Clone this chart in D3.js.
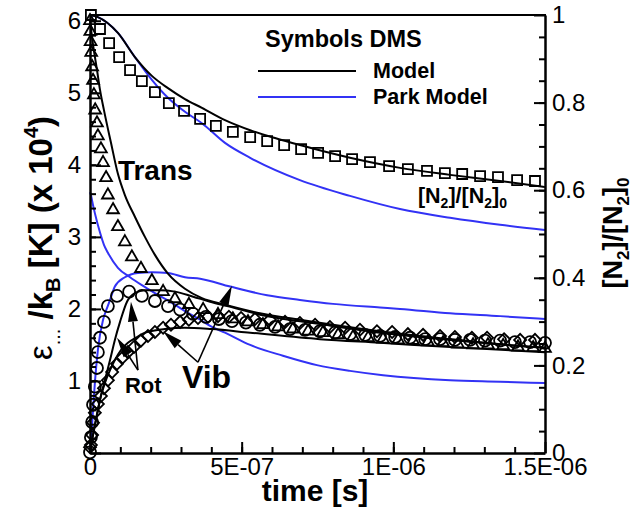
<!DOCTYPE html>
<html><head><meta charset="utf-8">
<script src="https://cdn.jsdelivr.net/npm/d3@7"></script>
<style>
body{margin:0;background:#fff;}
svg{display:block;font-family:"Liberation Sans",Arial,Helvetica,sans-serif;}
</style></head><body>
<svg id="c" width="641" height="508"></svg>
<script>
const US = 1e-6; // times below are in microseconds

// ---- DMS symbols ----
// Squares: [N2]/[N2]0 (right axis)
const tSq = [0.003,0.033,0.063,0.096,0.132,0.171,0.214,0.260,0.310,0.363,0.415,0.471,0.528,0.584,0.640,0.696,0.752,0.808,0.864,0.923,0.986,1.048,1.111,1.170,1.227,1.286,1.345,1.408,1.467];
const vSq = [1.0,0.968,0.936,0.904,0.874,0.849,0.824,0.799,0.781,0.763,0.747,0.733,0.721,0.712,0.703,0.694,0.685,0.678,0.671,0.664,0.655,0.648,0.644,0.639,0.637,0.632,0.630,0.623,0.621];
// Triangles: Trans temperature (x1e4 K)
const tTri = [0,0.001,0.002,0.004,0.007,0.010,0.013,0.017,0.023,0.026,0.036,0.043,0.053,0.059,0.076,0.092,0.115,0.138,0.168,0.204,0.241,0.280,0.326,0.373,0.422,0.471,0.521,0.570,0.620,0.669,0.719,0.768,0.818,0.867,0.917,0.966,1.016,1.065,1.114,1.164,1.213,1.263,1.312,1.362,1.411,1.461,1.5];
const vTri = [6.0,5.85,5.71,5.56,5.36,5.17,4.97,4.76,4.58,4.40,4.22,4.03,3.82,3.58,3.375,3.14,2.93,2.72,2.56,2.39,2.24,2.14,2.06,1.99,1.92,1.86,1.82,1.78,1.75,1.72,1.69,1.67,1.64,1.61,1.60,1.58,1.57,1.56,1.54,1.53,1.51,1.50,1.50,1.49,1.47,1.46,1.45];
// Circles: Rot temperature
const tCir = [0,0.003,0.007,0.010,0.016,0.023,0.026,0.033,0.046,0.059,0.089,0.129,0.171,0.214,0.257,0.297,0.340,0.382,0.425,0.468,0.514,0.560,0.610,0.659,0.709,0.758,0.808,0.857,0.907,0.956,1.006,1.055,1.105,1.154,1.203,1.253,1.302,1.352,1.401,1.451,1.5];
const vCir = [0.01,0.22,0.43,0.67,0.92,1.18,1.40,1.60,1.82,2.04,2.18,2.24,2.18,2.11,2.04,1.99,1.93,1.89,1.86,1.83,1.81,1.78,1.75,1.72,1.71,1.69,1.67,1.65,1.64,1.625,1.61,1.60,1.58,1.58,1.57,1.57,1.56,1.56,1.54,1.54,1.53];
// Diamonds: Vib temperature
const tDia = [0,0.003,0.007,0.010,0.016,0.026,0.036,0.046,0.059,0.073,0.089,0.106,0.125,0.145,0.168,0.191,0.214,0.241,0.267,0.297,0.326,0.356,0.389,0.422,0.458,0.498,0.544,0.593,0.643,0.692,0.742,0.791,0.841,0.890,0.946,0.996,1.048,1.098,1.154,1.203,1.259,1.309,1.365,1.418,1.467];
const vDia = [0.08,0.11,0.25,0.42,0.56,0.68,0.79,0.90,1.01,1.125,1.24,1.32,1.40,1.47,1.56,1.625,1.68,1.74,1.78,1.82,1.85,1.875,1.89,1.90,1.89,1.875,1.86,1.85,1.82,1.805,1.78,1.75,1.74,1.71,1.69,1.68,1.65,1.64,1.625,1.61,1.60,1.60,1.58,1.57,1.57];

// ---- Model (black) ----
const tTrM = [0,0.010,0.023,0.033,0.046,0.069,0.092,0.115,0.148,0.181,0.214,0.257,0.313,0.369,0.445,0.560,0.692,0.956,1.187,1.352,1.5];
const vTrM = [6.0,5.67,5.32,5.04,4.76,4.31,3.875,3.58,3.28,3.0,2.75,2.49,2.28,2.15,2.06,1.94,1.85,1.69,1.58,1.51,1.46];
const tRoM = [0,0.007,0.020,0.033,0.049,0.066,0.082,0.099,0.122,0.148,0.181,0.231,0.280,0.340,0.396,0.452,0.560,0.758,0.956,1.187,1.5];
const vRoM = [0,0.18,0.46,0.74,1.01,1.29,1.57,1.82,2.10,2.22,2.26,2.26,2.24,2.17,2.10,2.04,1.92,1.79,1.67,1.57,1.46];
const tViM = [0,0.007,0.016,0.026,0.036,0.049,0.066,0.082,0.102,0.125,0.155,0.181,0.247,0.313,0.402,0.528,0.758,0.956,1.187,1.5];
const vViM = [0,0.18,0.39,0.60,0.79,0.97,1.15,1.29,1.43,1.53,1.61,1.67,1.72,1.74,1.72,1.67,1.58,1.53,1.47,1.40];
const tN2M = [0,0.026,0.092,0.148,0.204,0.257,0.313,0.369,0.445,0.528,0.610,0.692,0.857,1.022,1.187,1.352,1.5];
const vN2M = [1.0,0.995,0.959,0.904,0.861,0.833,0.808,0.788,0.760,0.737,0.719,0.703,0.674,0.651,0.635,0.621,0.607];

// ---- Park model (blue) ----
const tPkT = [0,0.003,0.010,0.016,0.033,0.046,0.059,0.092,0.132,0.171,0.214,0.264,0.313,0.363,0.402,0.445,0.528,0.636,0.748,0.857,0.966,1.187,1.352,1.5];
const vPkT = [3.62,3.58,3.44,3.33,3.06,2.89,2.78,2.57,2.44,2.33,2.22,2.10,1.97,1.85,1.75,1.67,1.50,1.35,1.22,1.14,1.08,1.01,0.99,0.97];
const tPkV = [0,0.003,0.007,0.010,0.016,0.026,0.043,0.056,0.066,0.082,0.115,0.158,0.204,0.257,0.313,0.363,0.462,0.584,0.692,0.801,0.956,1.022,1.187,1.352,1.5];
const vPkV = [0,0.18,0.39,0.60,0.97,1.43,1.85,2.01,2.125,2.31,2.44,2.50,2.51,2.50,2.44,2.42,2.31,2.19,2.125,2.07,2.02,2.00,1.94,1.90,1.86];
const tPkN = [0,0.026,0.092,0.148,0.204,0.257,0.313,0.369,0.445,0.528,0.692,0.857,1.022,1.187,1.352,1.5];
const vPkN = [1.0,0.995,0.959,0.904,0.852,0.811,0.779,0.753,0.708,0.674,0.623,0.587,0.557,0.537,0.521,0.509];

// ---- axes ----
const xTicks = [0, 0.5, 1.0, 1.5];
const xTickLabels = ["0", "5E-07", "1E-06", "1.5E-06"];
const yLTicks = [1, 2, 3, 4, 5, 6];
const yRTicks = [0, 0.2, 0.4, 0.6, 0.8, 1];
const yRTickLabels = ["0", "0.2", "0.4", "0.6", "0.8", "1"];

const BLUE = "#3232f5";
const svg = d3.select("#c");
const x = d3.scaleLinear().domain([0, 1.5 * US]).range([90, 545]);
const yL = d3.scaleLinear().domain([0, 6.08]).range([453, 15]);
const yR = d3.scaleLinear().domain([0, 1]).range([453, 15]);
const zip = (t, v) => t.map((d, i) => ({t: d * US, v: v[i]}));

const lineL = d3.line().x(d => x(d.t)).y(d => yL(d.v)).curve(d3.curveMonotoneX);
const lineR = d3.line().x(d => x(d.t)).y(d => yR(d.v)).curve(d3.curveMonotoneX);

const curves = [
  {d: zip(tPkT, vPkT), g: lineL, c: BLUE},
  {d: zip(tPkV, vPkV), g: lineL, c: BLUE},
  {d: zip(tPkN, vPkN), g: lineR, c: BLUE},
  {d: zip(tTrM, vTrM), g: lineL, c: "#000"},
  {d: zip(tRoM, vRoM), g: lineL, c: "#000"},
  {d: zip(tViM, vViM), g: lineL, c: "#000"},
  {d: zip(tN2M, vN2M), g: lineR, c: "#000"}
];
svg.append("g").selectAll("path").data(curves).join("path")
  .attr("d", c => c.g(c.d)).attr("fill", "none")
  .attr("stroke", c => c.c).attr("stroke-width", 2);

// markers
const mk = svg.append("g").attr("fill", "none").attr("stroke", "#000").attr("stroke-width", 1.8);
mk.selectAll(".sq").data(zip(tSq, vSq)).join("path")
  .attr("d", d3.symbol(d3.symbolSquare, 100))
  .attr("transform", d => `translate(${x(d.t)},${yR(d.v)})`);
mk.selectAll(".tr").data(zip(tTri, vTri)).join("path")
  .attr("d", d3.symbol(d3.symbolTriangle, 60))
  .attr("transform", d => `translate(${x(d.t)},${yL(d.v)})`);
mk.selectAll(".ci").data(zip(tCir, vCir)).join("circle")
  .attr("r", 6).attr("cx", d => x(d.t)).attr("cy", d => yL(d.v));
mk.selectAll(".di").data(zip(tDia, vDia)).join("path")
  .attr("d", d3.symbol(d3.symbolSquare, 72))
  .attr("transform", d => `translate(${x(d.t)},${yL(d.v)}) rotate(45)`);

// axes
const fs = 24;
function styleAxis(g) {
  g.selectAll("text").attr("font-size", fs).attr("fill", "#000").attr("font-family", "Liberation Sans, Arial, sans-serif");
  g.selectAll("line").attr("stroke", "#000").attr("stroke-width", 2);
  g.select(".domain").attr("stroke", "#000").attr("stroke-width", 2.5);
}
// minor ticks
svg.append("g").attr("transform", "translate(0,453)")
  .call(d3.axisBottom(x).tickValues(d3.range(1, 15).map(i => i * 0.1 * US)).tickSize(-6).tickFormat(""))
  .call(g => g.select(".domain").remove()).call(styleAxis);
svg.append("g").attr("transform", "translate(90,0)")
  .call(d3.axisLeft(yL).tickValues(d3.range(1, 31).map(i => i * 0.2)).tickSize(-6).tickFormat(""))
  .call(g => g.select(".domain").remove()).call(styleAxis);
svg.append("g").attr("transform", "translate(545,0)")
  .call(d3.axisRight(yR).tickValues(d3.range(1, 20).map(i => i * 0.05)).tickSize(-6).tickFormat(""))
  .call(g => g.select(".domain").remove()).call(styleAxis);
// major
svg.append("g").attr("transform", "translate(0,453)")
  .call(d3.axisBottom(x).tickValues(xTicks.map(t => t * US)).tickSize(-11).tickSizeOuter(0).tickPadding(5)
    .tickFormat((d, i) => xTickLabels[i]))
  .call(styleAxis);
svg.append("g").attr("transform", "translate(90,0)")
  .call(d3.axisLeft(yL).tickValues([0].concat(yLTicks)).tickSize(-11).tickSizeOuter(0).tickPadding(9)
    .tickFormat(d => d === 0 ? "" : String(d)))
  .call(styleAxis);
svg.append("g").attr("transform", "translate(545,0)")
  .call(d3.axisRight(yR).tickValues(yRTicks).tickSize(-11).tickSizeOuter(0).tickPadding(7)
    .tickFormat((d, i) => yRTickLabels[i]))
  .call(styleAxis);
// top frame
svg.append("line").attr("x1", 89).attr("x2", 546).attr("y1", 15).attr("y2", 15)
  .attr("stroke", "#000").attr("stroke-width", 2);

// axis titles
svg.append("text").attr("x", 315).attr("y", 501).attr("text-anchor", "middle")
  .attr("font-size", 30).attr("font-weight", "bold").text("time [s]");

const lt = svg.append("text").attr("transform", "translate(52,238) rotate(-90)")
  .attr("text-anchor", "middle").attr("font-size", 33).attr("font-weight", "bold");
lt.append("tspan").attr("font-weight", "normal").text("ε");
lt.append("tspan").attr("font-size", 20).attr("dy", 8).attr("font-weight", "normal").text("...");
lt.append("tspan").attr("dy", -8).text(" /k");
lt.append("tspan").attr("font-size", 20).attr("dy", 8).text("B");
lt.append("tspan").attr("dy", -8).text(" [K] (x 10");
lt.append("tspan").attr("font-size", 20).attr("dy", -14).text("4");
lt.append("tspan").attr("dy", 14).text(")");

const rt = svg.append("text").attr("transform", "translate(622,233) rotate(-90)")
  .attr("text-anchor", "middle").attr("font-size", 27).attr("font-weight", "bold");
rt.append("tspan").text("[N");
rt.append("tspan").attr("font-size", 17).attr("dy", 7).text("2");
rt.append("tspan").attr("dy", -7).text("]/[N");
rt.append("tspan").attr("font-size", 17).attr("dy", 7).text("2");
rt.append("tspan").attr("dy", -7).text("]");
rt.append("tspan").attr("font-size", 17).attr("dy", 7).text("0");

// legend
const lg = svg.append("g").attr("font-weight", "bold");
lg.append("text").attr("x", 265).attr("y", 47).attr("font-size", 23.5).text("Symbols  DMS");
lg.append("line").attr("x1", 258).attr("x2", 356).attr("y1", 71).attr("y2", 71).attr("stroke", "#000").attr("stroke-width", 2);
lg.append("text").attr("x", 373).attr("y", 78).attr("font-size", 21.5).text("Model");
lg.append("line").attr("x1", 258).attr("x2", 356).attr("y1", 97).attr("y2", 97).attr("stroke", BLUE).attr("stroke-width", 2);
lg.append("text").attr("x", 373).attr("y", 104).attr("font-size", 21.5).text("Park Model");

// annotations
const ann = svg.append("g").attr("font-weight", "bold");
ann.append("text").attr("x", x(0.092 * US)).attr("y", yL(3.79)).attr("font-size", 28).text("Trans");
ann.append("text").attr("x", x(0.115 * US)).attr("y", yL(0.83)).attr("font-size", 22).text("Rot");
ann.append("text").attr("x", x(0.303 * US)).attr("y", yL(0.90)).attr("font-size", 32).text("Vib");
const nl = ann.append("text").attr("x", x(1.081 * US)).attr("y", yR(0.571)).attr("font-size", 21.5);
nl.append("tspan").text("[N");
nl.append("tspan").attr("font-size", 14).attr("dy", 5).text("2");
nl.append("tspan").attr("dy", -5).text("]/[N");
nl.append("tspan").attr("font-size", 14).attr("dy", 5).text("2");
nl.append("tspan").attr("dy", -5).text("]");
nl.append("tspan").attr("font-size", 14).attr("dy", 5).text("0");

// arrows [base t, base v, tip t, tip v]
const arrows = [
  [0.158, 1.15, 0.135, 2.10],
  [0.158, 1.15, 0.089, 1.60],
  [0.356, 1.26, 0.241, 1.69],
  [0.356, 1.26, 0.468, 2.32]
];
const ag = svg.append("g");
arrows.forEach(a => {
  const x0 = x(a[0] * US), y0 = yL(a[1]), x1 = x(a[2] * US), y1 = yL(a[3]);
  const dx = x1 - x0, dy = y1 - y0, L = Math.hypot(dx, dy), ux = dx / L, uy = dy / L;
  const hl = 20, hw = 5;
  const bx = x1 - ux * hl, by = y1 - uy * hl;
  ag.append("line").attr("x1", x0).attr("y1", y0).attr("x2", bx).attr("y2", by)
    .attr("stroke", "#000").attr("stroke-width", 1.6);
  ag.append("path").attr("d", `M${x1},${y1}L${bx - uy * hw},${by + ux * hw}L${bx + uy * hw},${by - ux * hw}Z`)
    .attr("fill", "#000");
});
</script>
</body></html>
